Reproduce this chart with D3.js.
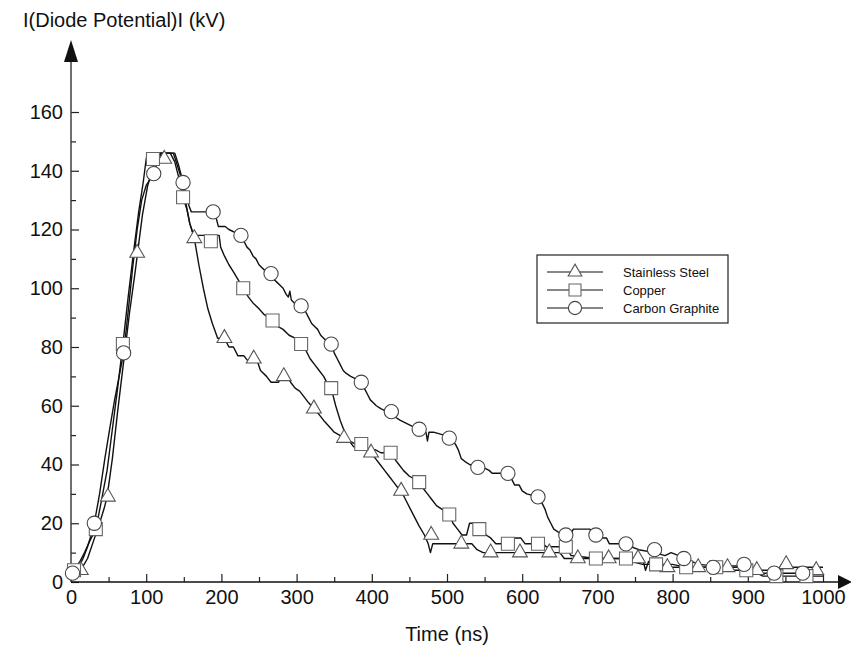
<!DOCTYPE html>
<html>
<head>
<meta charset="utf-8">
<script src="https://cdn.jsdelivr.net/npm/d3@7/dist/d3.min.js"></script>
<style>
  body { margin: 0; background: #fff; }
  text { font-family: "Liberation Sans", Arial, Helvetica, sans-serif; fill: #111; }
</style>
</head>
<body>
<svg id="chart"></svg>
<script>
// 軸の目盛り
var xTicks = [0, 100, 200, 300, 400, 500, 600, 700, 800, 900, 1000];
var xMinorTicks = [50, 150, 250, 350, 450, 550, 650, 750, 850, 950];
var yTicks = [0, 20, 40, 60, 80, 100, 120, 140, 160];
var yMinorTicks = [10, 30, 50, 70, 90, 110, 130, 150];

var seriesNames = ["Stainless Steel", "Copper", "Carbon Graphite"];

// 線のデータ [時間 ns, 電位 kV]
var steelLine = [
  [0,3],[8,4],[15,5],[22,8],[30,14],[38,20],[44,25],[48,29],[55,42],[62,58],[70,75],
  [78,92],[85,105],[90,115],[95,125],[102,135],[110,142],[118,146],[136,146],[140,143],
  [146,138],[152,130],[158,122],[164,117],[170,108],[176,100],[182,93],[188,88],[195,83],
  [204,83],[210,80],[216,80],[222,77],[230,77],[236,75],[248,75],[252,72],[260,70],
  [266,68],[276,68],[280,70],[288,70],[292,68],[298,66],[304,65],[310,63],[316,61],
  [323,59],[330,57],[336,55],[343,53],[350,51],[357,50],[363,49],[370,48],[378,47],
  [386,46],[393,45],[399,44],[405,42],[411,40],[417,38],[423,36],[429,34],[435,32],
  [439,31],[445,28],[451,25],[457,22],[463,19],[470,16],[475,13],[478,10],[481,13],
  [533,13],[540,11],[548,10],[650,10],[656,8],[760,8],[764,4],[768,7],[780,5],
  [905,5],[910,4],[940,4],[945,6],[955,5],[1000,5]
];
var copperLine = [
  [0,4],[6,5],[12,7],[18,10],[25,14],[33,18],[40,27],[48,38],[55,52],[62,66],[69,81],
  [76,97],[83,112],[90,126],[96,136],[100,144],[102,146],[132,146],[138,143],[143,138],
  [149,131],[154,127],[158,122],[162,119],[166,118],[197,118],[199,114],[204,111],
  [210,108],[215,106],[222,103],[229,100],[236,97],[242,95],[250,93],[257,91],[263,90],
  [268,89],[275,87],[282,86],[290,84],[298,83],[306,81],[312,79],[318,76],[324,74],
  [330,72],[336,70],[342,67],[346,66],[352,60],[358,55],[364,51],[370,48],[376,46],
  [386,46],[395,45],[405,45],[412,44],[425,44],[430,42],[436,40],[442,38],[450,36],
  [457,35],[463,34],[468,32],[474,30],[480,28],[486,26],[492,25],[498,24],[503,23],
  [508,20],[514,18],[520,16],[526,16],[530,20],[541,20],[548,18],[552,16],[558,15],
  [565,13],[581,13],[586,13],[590,15],[598,15],[604,13],[621,13],[628,13],[632,12],
  [658,12],[665,9],[698,8],[738,8],[745,7],[760,6],[800,6],[818,5],[858,5],[880,4],
  [905,4],[920,2],[1000,2]
];
var carbonLine = [
  [0,3],[5,4],[10,5],[16,8],[22,12],[28,17],[31,20],[38,30],[45,42],[52,53],[58,62],
  [64,70],[70,78],[76,92],[82,107],[88,120],[94,130],[100,135],[105,137],[110,139],
  [115,143],[120,146],[138,146],[143,142],[149,136],[153,132],[157,128],[160,126],
  [189,126],[193,124],[196,121],[205,121],[210,120],[226,118],[230,116],[234,114],
  [238,113],[242,111],[246,110],[250,108],[254,107],[258,106],[262,105],[266,105],
  [270,103],[274,102],[278,101],[282,100],[286,98],[289,97],[291,99],[293,96],[297,95],
  [306,94],[312,92],[316,90],[320,88],[324,87],[328,86],[332,84],[336,83],[340,82],
  [346,81],[350,78],[354,76],[358,74],[362,72],[366,71],[372,70],[380,69],[386,68],
  [390,66],[394,64],[398,62],[402,61],[406,60],[412,59],[420,58],[426,58],[432,56],
  [438,55],[446,54],[454,53],[463,52],[468,51],[472,51],[474,48],[476,51],[482,51],
  [496,50],[503,50],[507,48],[511,47],[515,45],[519,42],[524,41],[530,40],[541,39],
  [548,39],[556,38],[560,37],[581,37],[586,35],[590,33],[596,33],[600,31],[606,30],
  [621,29],[626,27],[630,25],[634,22],[638,20],[642,18],[648,17],[658,16],[664,16],
  [668,18],[690,18],[694,16],[698,16],[702,15],[712,15],[716,13],[738,13],[745,12],
  [755,11],[776,10],[790,9],[798,10],[808,9],[815,8],[825,7],[835,6],[854,5.5],
  [895,5.5],[905,4],[920,3],[1000,3]
];

// マーカーの位置
var steelMarks = [
  [13,4],[49,29],[88,112],[124,144],[164,117],[204,83],[243,76],[283,70],[323,59],
  [363,49],[399,44],[439,31],[479,16],[519,13],[558,10],[597,10],[636,10],[674,8],
  [715,8],[754,8],[793,5],[834,5],[873,5],[912,4],[951,6],[991,4]
];
var copperMarks = [
  [4,4],[33,18],[69,81],[109,144],[149,131],[186,116],[229,100],[268,89],[306,81],
  [346,66],[386,47],[425,44],[463,34],[503,23],[543,18],[581,13],[621,13],[658,12],
  [698,8],[738,8],[778,6],[818,5],[858,5],[898,4],[938,2],[978,2]
];
var carbonMarks = [
  [2,3],[31,20],[70,78],[110,139],[149,136],[189,126],[226,118],[266,105],[306,94],
  [346,81],[386,68],[426,58],[463,52],[503,49],[541,39],[581,37],[621,29],[658,16],
  [698,16],[738,13],[776,11],[815,8],[854,5],[895,6],[935,3],[973,3]
];


// 表示サイズ
var size = { width: 851, height: 649 };

var svg = d3.select("#chart")
  .attr("width", size.width)
  .attr("height", size.height);

var x = d3.scaleLinear().domain([0, 1000]).range([71, 823]);
var y = d3.scaleLinear().domain([0, 160]).range([582, 112]);

var series = [
  { name: seriesNames[0], line: steelLine,  marks: steelMarks,  symbol: d3.symbolTriangle, size: 95,  stroke: "#555" },
  { name: seriesNames[1], line: copperLine, marks: copperMarks, symbol: d3.symbolSquare,   size: 169, stroke: "#666" },
  { name: seriesNames[2], line: carbonLine, marks: carbonMarks, symbol: d3.symbolCircle,   size: 160, stroke: "#444" }
];


// 軸
var xAxis = d3.axisBottom(x).tickValues(xTicks).tickSize(-8).tickPadding(8).tickFormat(d3.format("d"));
var xMinor = d3.axisBottom(x).tickValues(xMinorTicks).tickSize(-5).tickFormat("");
var yAxis = d3.axisLeft(y).tickValues(yTicks).tickSize(-8).tickPadding(8).tickFormat(d3.format("d"));
var yMinor = d3.axisLeft(y).tickValues(yMinorTicks).tickSize(-5).tickFormat("");

function styleAxis(g) {
  g.select(".domain").remove();
  g.selectAll("line").attr("stroke", "#222").attr("stroke-width", 1.2);
  g.selectAll("text").style("font-size", "20px").style("font-family", "'Liberation Sans', Arial, sans-serif").attr("fill", "#111");
}

svg.append("g").attr("transform", "translate(0," + y(0) + ")").call(xAxis).call(styleAxis);
svg.append("g").attr("transform", "translate(0," + y(0) + ")").call(xMinor).call(styleAxis);
svg.append("g").attr("transform", "translate(" + x(0) + ",0)").call(yAxis).call(styleAxis);
svg.append("g").attr("transform", "translate(" + x(0) + ",0)").call(yMinor).call(styleAxis);

// 軸線と矢印
svg.append("line")
  .attr("x1", x(0)).attr("x2", 840)
  .attr("y1", y(0)).attr("y2", y(0))
  .attr("stroke", "#111").attr("stroke-width", 1.6);
svg.append("path")
  .attr("d", "M838," + (y(0) - 7) + "L852," + y(0) + "L838," + (y(0) + 7) + "Z")
  .attr("fill", "#111");

svg.append("line")
  .attr("x1", x(0)).attr("x2", x(0))
  .attr("y1", y(0)).attr("y2", 58)
  .attr("stroke", "#333").attr("stroke-width", 1.4);
svg.append("path")
  .attr("d", "M" + (x(0) - 7) + ",62L" + x(0) + ",40L" + (x(0) + 7) + ",62Z")
  .attr("fill", "#111");

// 軸ラベル
svg.append("text")
  .attr("x", 23).attr("y", 27)
  .style("font-size", "20px")
  .text("I(Diode Potential)I (kV)");

svg.append("text")
  .attr("x", 447).attr("y", 641)
  .attr("text-anchor", "middle")
  .style("font-size", "20px")
  .text("Time (ns)");


// 線
var line = d3.line()
  .x(function(d){ return x(d[0]); })
  .y(function(d){ return y(d[1]); });

series.forEach(function(s){
  svg.append("path")
    .datum(s.line)
    .attr("fill", "none")
    .attr("stroke", "#111")
    .attr("stroke-width", 1.4)
    .attr("stroke-linejoin", "round")
    .attr("d", line);
});

// マーカー
series.forEach(function(s){
  svg.append("g").selectAll("path")
    .data(s.marks)
    .enter().append("path")
      .attr("transform", function(d){ return "translate(" + x(d[0]) + "," + y(d[1]) + ")"; })
      .attr("d", d3.symbol().type(s.symbol).size(s.size))
      .attr("fill", "#fff")
      .attr("stroke", s.stroke)
      .attr("stroke-width", 1.1);
});


// 凡例
var legend = svg.append("g").attr("transform", "translate(537,255)");

legend.append("rect")
  .attr("width", 191).attr("height", 68)
  .attr("fill", "#fff")
  .attr("stroke", "#222").attr("stroke-width", 1.2);

var item = legend.selectAll(".item")
  .data(series)
  .enter().append("g")
    .attr("class", "item")
    .attr("transform", function(d, i){ return "translate(0," + (17 + i * 18) + ")"; });

item.append("line")
  .attr("x1", 10).attr("x2", 66)
  .attr("stroke", "#111").attr("stroke-width", 1.2);

item.append("path")
  .attr("transform", "translate(38,0)")
  .attr("d", function(d){ return d3.symbol().type(d.symbol).size(d.size * 0.85)(); })
  .attr("fill", "#fff")
  .attr("stroke", function(d){ return d.stroke; })
  .attr("stroke-width", 1.1);

item.append("text")
  .attr("x", 86).attr("dy", "0.35em")
  .style("font-size", "13px")
  .text(function(d){ return d.name; });
</script>
</body>
</html>
